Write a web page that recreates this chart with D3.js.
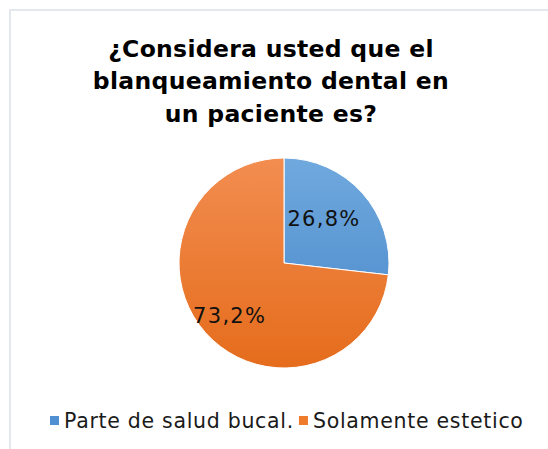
<!DOCTYPE html>
<html><head><meta charset="utf-8">
<script src="https://cdn.jsdelivr.net/npm/d3@7"></script>
<style>html,body{margin:0;padding:0;background:#fff;}svg{display:block;}</style>
</head><body>
<svg id="chart" width="548" height="449"></svg>
<script>
const titleLines = ["¿Considera usted que el", "blanqueamiento dental en", "un paciente es?"];
const categories = ["Parte de salud bucal.", "Solamente estetico"];
const values = [26.8, 73.2];
const labels = ["26,8%", "73,2%"];
const colorsLight = ["#70a9de", "#f28d50"];
const colorsDark = ["#4585c8", "#e56c1c"];
const legendColors = ["#4f8fd2", "#ef7b2d"];

const svg = d3.select("#chart");
const W = 548, H = 449;
const font = "'DejaVu Sans', Verdana, sans-serif";

// chart border
svg.append("path")
  .attr("d", `M10,${H+5} L10,10 L${W+5},10`)
  .attr("fill", "none").attr("stroke", "#e3e7ee").attr("stroke-width", 2);

// title
const title = svg.append("text").attr("text-anchor", "middle")
  .attr("font-family", font).attr("font-weight", "bold").attr("font-size", 23.5)
  .attr("letter-spacing", 0.3).attr("fill", "#000");
titleLines.forEach((t, i) => {
  title.append("tspan").attr("x", 271).attr("y", 57 + i * 32.3).text(t);
});

// gradients
const defs = svg.append("defs");
categories.forEach((c, i) => {
  const g = defs.append("linearGradient").attr("id", "g" + i)
    .attr("gradientUnits", "userSpaceOnUse")
    .attr("x1", 0).attr("y1", -105).attr("x2", 0).attr("y2", 105);
  g.append("stop").attr("offset", "0%").attr("stop-color", colorsLight[i]);
  g.append("stop").attr("offset", "100%").attr("stop-color", colorsDark[i]);
});

const cx = 284, cy = 263, r = 105;
const pie = d3.pie().sort(null).value(d => d);
const arcs = pie(values);
const arc = d3.arc().innerRadius(0).outerRadius(r);
const g = svg.append("g").attr("transform", `translate(${cx},${cy})`);
g.selectAll("path").data(arcs).join("path")
  .attr("d", arc)
  .attr("fill", (d, i) => `url(#g${i})`)
  .attr("stroke", "#fff").attr("stroke-width", 1);

const labelRadius = [0.57, 0.72];
const labelAngleShift = [-0.11, -0.04];
g.selectAll("text").data(arcs).join("text")
  .attr("transform", (d, i) => {
    const a = (d.startAngle + d.endAngle) / 2 + labelAngleShift[i];
    const rr = r * labelRadius[i];
    return `translate(${Math.sin(a) * rr},${-Math.cos(a) * rr})`;
  })
  .attr("text-anchor", "middle").attr("dy", "0.36em")
  .attr("font-family", font).attr("font-size", 21).attr("letter-spacing", 1.3).attr("fill", "#111")
  .text((d, i) => labels[i]);

// legend
const leg = svg.append("g");
let lx = 50;
categories.forEach((c, i) => {
  leg.append("rect").attr("x", lx).attr("y", 416).attr("width", 9).attr("height", 9)
    .attr("fill", legendColors[i]);
  const t = leg.append("text").attr("x", lx + 14).attr("y", 428)
    .attr("font-family", font).attr("font-size", 20.5).attr("letter-spacing", 0.7)
    .attr("fill", "#1a1a1a").text(c);
  lx = lx + 14 + t.node().getComputedTextLength() + 5;
});
</script>
</body></html>
